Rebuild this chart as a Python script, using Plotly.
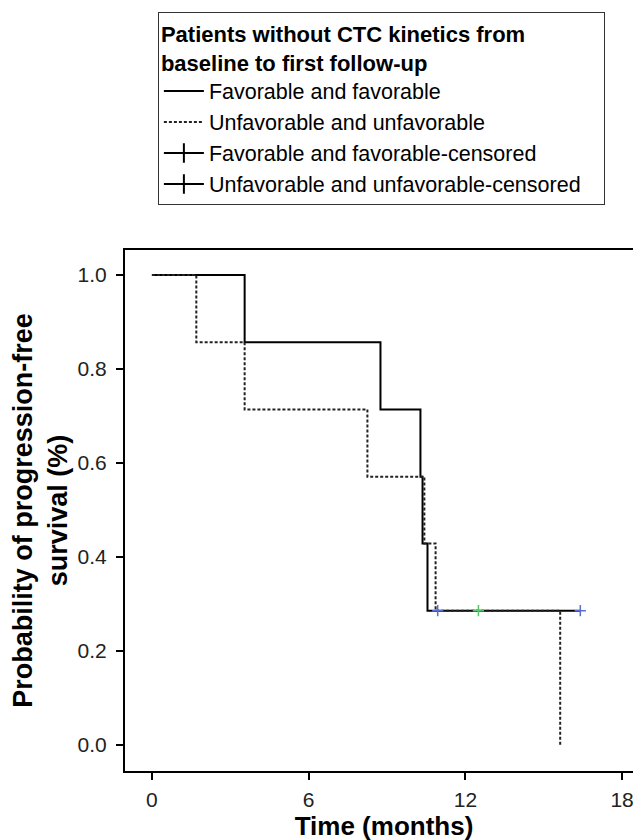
import plotly.graph_objects as go

# Kaplan-Meier steps (time in months, survival probability)
fav_time = [0, 3.55, 8.75, 10.28, 10.36, 10.55, 16.4]
fav_surv = [1.0, 0.857, 0.714, 0.571, 0.429, 0.286, 0.286]

unf_time = [0, 1.7, 3.55, 8.25, 10.43, 10.86, 15.63]
unf_surv = [1.0, 0.857, 0.714, 0.571, 0.429, 0.286, 0.0]

fav_cens_time = [10.94, 16.4]
fav_cens_surv = [0.286, 0.286]
unf_cens_time = [12.5]
unf_cens_surv = [0.286]

x_ticks = [0, 6, 12, 18]
y_ticks = [0.0, 0.2, 0.4, 0.6, 0.8, 1.0]

legend_title = "Patients without CTC kinetics from<br>baseline to first follow-up"
names = ["Favorable and favorable", "Unfavorable and unfavorable",
         "Favorable and favorable-censored", "Unfavorable and unfavorable-censored"]

FONT = "Liberation Sans, Arial, sans-serif"
NBSP = "\u00a0"

fig = go.Figure()
fig.add_trace(go.Scatter(x=fav_time, y=fav_surv, mode="lines", line_shape="hv",
                         line=dict(color="black", width=2), name=names[0]))
fig.add_trace(go.Scatter(x=unf_time, y=unf_surv, mode="lines", line_shape="hv",
                         line=dict(color="#222222", width=2, dash="3px,2px"), name=names[1]))
# legend-only entries for censored marks (black in legend)
for i, nm in enumerate(names[2:]):
    label = nm + (NBSP * 3 if i == 1 else "")
    fig.add_trace(go.Scatter(x=[None], y=[None], mode="lines+markers", name=label,
                             line=dict(color="black", width=2),
                             marker=dict(symbol="line-ns", size=14, line=dict(color="black", width=2))))
# actual censored marks
fig.add_trace(go.Scatter(x=fav_cens_time, y=fav_cens_surv, mode="markers", showlegend=False,
                         marker=dict(symbol="cross-thin", size=8, line=dict(color="#5a6fd0", width=1.5))))
fig.add_trace(go.Scatter(x=unf_cens_time, y=unf_cens_surv, mode="markers", showlegend=False,
                         marker=dict(symbol="cross-thin", size=8, line=dict(color="#56c46a", width=1.5))))

fig.update_layout(
    width=641, height=840,
    margin=dict(l=117, r=4, t=238, b=77),
    paper_bgcolor="white", plot_bgcolor="white",
    font=dict(family=FONT, color="black"),
    legend=dict(
        title=dict(text="<b>" + legend_title + "</b>", font=dict(size=22, family=FONT), side="top"),
        font=dict(size=21.5, family=FONT),
        x=0.0635, y=1.456, xanchor="left", yanchor="top",
        bordercolor="#333333", borderwidth=1, bgcolor="white",
        tracegroupgap=0, itemwidth=40,
    ),
    xaxis=dict(
        range=[-1.03, 18.8], tickvals=x_ticks, ticktext=[str(v) for v in x_ticks],
        showgrid=False, zeroline=False, showline=True, linecolor="black", linewidth=2, mirror=True,
        ticks="outside", ticklen=7, tickwidth=2, tickcolor="black", ticklabelstandoff=2,
        tickfont=dict(size=21, family=FONT, color="#222222"),
        title=dict(text="<b>Time (months)</b>", font=dict(size=26, family=FONT), standoff=0),
    ),
    yaxis=dict(
        range=[-0.055, 1.053], tickvals=y_ticks, tickformat=".1f",
        showgrid=False, zeroline=False, showline=True, linecolor="black", linewidth=2, mirror=True,
        ticks="outside", ticklen=7, tickwidth=2, tickcolor="black", ticklabelstandoff=5,
        tickfont=dict(size=21, family=FONT, color="#222222"),
        title=dict(text="<b>Probability of progression-free<br>survival (%)</b>",
                   font=dict(size=27, family=FONT), standoff=10),
    ),
)

fig.write_html("out.html")
